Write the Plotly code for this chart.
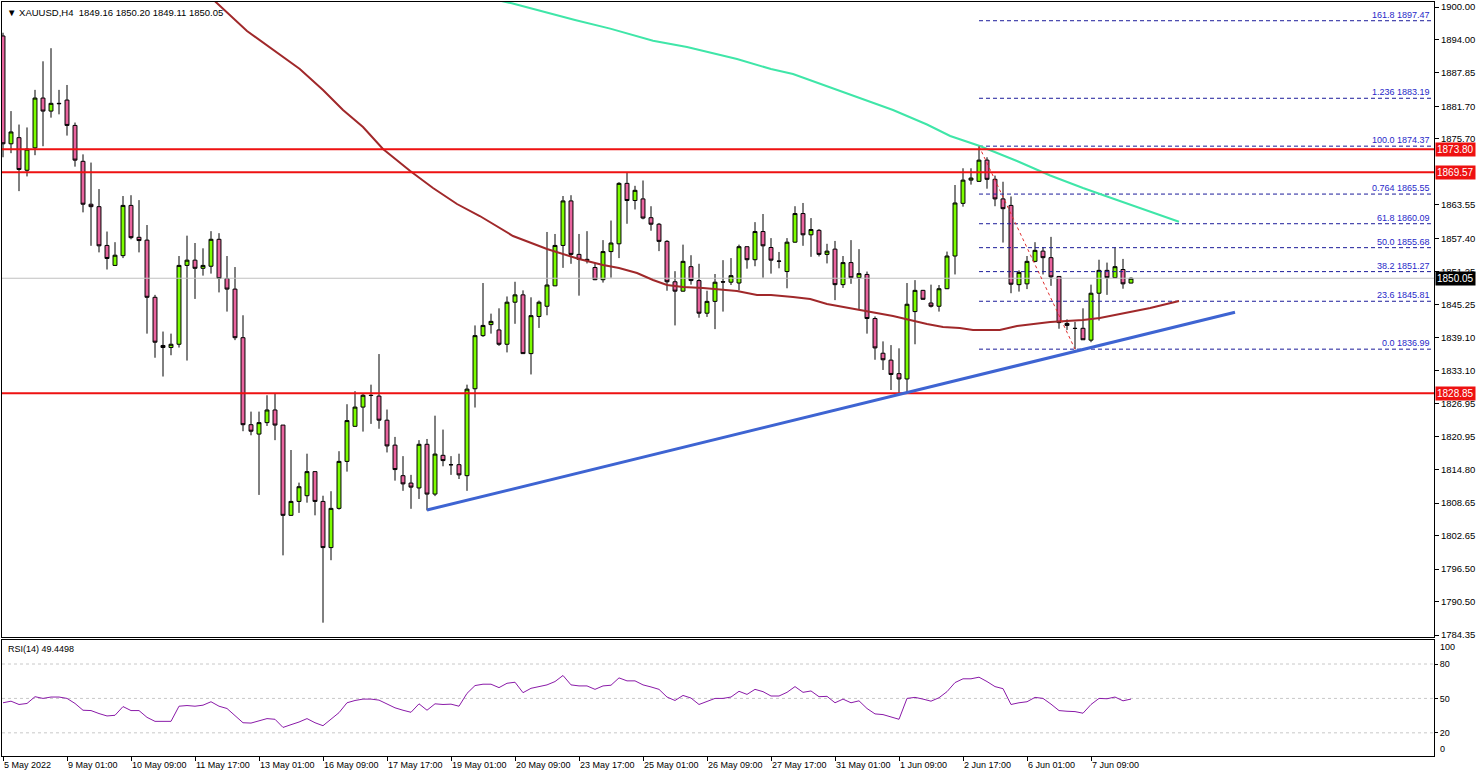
import plotly.graph_objects as go

# ---------------- data ----------------
bars = list(range(142))
opens = [1894.66, 1874.81, 1875.94, 1869.93, 1874.06, 1883.23, 1880.83, 1882.26, 1882.86, 1878.19,
         1871.58, 1863.68, 1863.23, 1856.09, 1852.41, 1854.21, 1863.46, 1857.59, 1857.07, 1846.54,
         1837.67, 1837.29, 1837.89, 1852.41, 1853.38, 1851.88, 1852.26, 1857.22, 1850.00, 1848.05,
         1839.10, 1823.08, 1821.35, 1823.46, 1825.79, 1823.01, 1806.39, 1808.95, 1810.00, 1814.44,
         1808.95, 1800.45, 1807.67, 1816.32, 1822.78, 1826.32, 1828.50, 1828.35, 1823.91, 1819.32,
         1813.69, 1812.33, 1811.43, 1819.47, 1810.30, 1817.44, 1815.72, 1815.72, 1813.69, 1829.70,
         1839.48, 1841.51, 1840.53, 1837.89, 1845.64, 1846.99, 1836.17, 1843.01, 1844.89, 1848.65,
         1856.09, 1864.29, 1854.44, 1853.53, 1852.03, 1849.78, 1854.96, 1856.39, 1867.52, 1864.36,
         1864.66, 1861.20, 1860.00, 1856.84, 1849.40, 1847.67, 1852.18, 1849.62, 1843.61, 1845.79,
         1849.40, 1849.32, 1849.17, 1855.86, 1853.46, 1858.65, 1855.71, 1853.16, 1851.28, 1856.69,
         1861.96, 1858.05, 1858.87, 1854.44, 1855.41, 1848.87, 1852.93, 1850.15, 1850.75, 1842.63,
         1836.24, 1834.97, 1832.48, 1831.50, 1843.91, 1847.82, 1845.49, 1844.89, 1848.12, 1854.14,
         1863.84, 1868.12, 1867.89, 1871.80, 1868.27, 1864.66, 1863.46, 1848.87, 1849.02, 1853.16,
         1855.04, 1853.84, 1850.38, 1841.73, 1840.83, 1840.83, 1838.65, 1847.29, 1851.50, 1850.15,
         1851.66, 1849.16]
highs = [1895.26, 1880.83, 1878.35, 1877.82, 1884.74, 1890.00, 1892.41, 1884.74, 1885.64, 1878.72,
         1872.86, 1871.35, 1866.47, 1858.65, 1856.69, 1865.19, 1865.34, 1864.44, 1859.85, 1846.99,
         1840.23, 1839.85, 1854.14, 1857.89, 1856.54, 1855.56, 1858.72, 1858.35, 1854.14, 1852.11,
         1843.23, 1825.49, 1825.49, 1828.50, 1828.87, 1823.01, 1818.42, 1812.41, 1817.74, 1814.44,
         1810.00, 1810.83, 1818.20, 1826.85, 1829.25, 1828.87, 1830.45, 1836.09, 1825.87, 1820.83,
         1817.29, 1813.84, 1820.23, 1820.45, 1824.74, 1822.18, 1817.29, 1817.74, 1830.45, 1841.36,
         1849.17, 1843.53, 1844.51, 1846.69, 1849.40, 1847.82, 1846.54, 1845.94, 1858.57, 1858.20,
         1865.19, 1865.34, 1858.20, 1858.72, 1852.93, 1857.07, 1860.68, 1867.74, 1869.47, 1867.07,
         1868.05, 1863.31, 1860.23, 1857.07, 1851.35, 1856.24, 1854.29, 1852.71, 1847.75, 1850.83,
         1853.38, 1853.76, 1856.24, 1855.86, 1860.38, 1861.88, 1857.44, 1854.89, 1857.44, 1863.31,
         1863.91, 1861.13, 1859.10, 1856.39, 1856.92, 1854.14, 1857.07, 1855.41, 1851.28, 1843.01,
         1838.42, 1837.74, 1837.14, 1849.17, 1849.70, 1847.90, 1848.87, 1848.80, 1854.96, 1867.22,
         1870.30, 1870.30, 1874.37, 1872.33, 1868.95, 1867.82, 1865.11, 1851.50, 1854.14, 1856.69,
         1855.79, 1857.67, 1850.38, 1842.48, 1842.03, 1844.51, 1848.87, 1853.46, 1852.93, 1855.71,
         1853.61, 1850.20]
lows = [1872.33, 1873.08, 1866.09, 1868.80, 1872.71, 1874.36, 1879.62, 1880.23, 1876.32, 1870.60,
        1862.18, 1856.02, 1854.81, 1851.66, 1852.30, 1853.76, 1857.22, 1854.81, 1839.85, 1835.41,
        1831.95, 1835.87, 1837.29, 1834.89, 1846.24, 1850.53, 1850.90, 1847.44, 1843.91, 1838.65,
        1821.88, 1821.13, 1810.15, 1822.85, 1820.23, 1799.02, 1806.30, 1806.84, 1808.72, 1806.39,
        1786.62, 1798.12, 1807.44, 1814.44, 1822.70, 1821.81, 1823.23, 1822.33, 1817.97, 1812.78,
        1810.90, 1807.59, 1809.40, 1807.29, 1809.93, 1815.42, 1813.84, 1813.08, 1810.90, 1826.24,
        1839.25, 1839.85, 1837.59, 1836.39, 1841.66, 1836.10, 1832.33, 1840.90, 1843.23, 1848.60,
        1851.96, 1852.71, 1846.84, 1852.78, 1849.70, 1849.25, 1850.15, 1853.76, 1860.08, 1862.71,
        1860.90, 1858.80, 1855.04, 1847.75, 1841.36, 1847.60, 1848.87, 1842.78, 1842.93, 1840.68,
        1843.91, 1848.80, 1847.82, 1851.81, 1852.26, 1850.15, 1850.90, 1851.88, 1848.20, 1856.60,
        1856.02, 1853.99, 1854.06, 1852.78, 1846.02, 1848.27, 1849.02, 1844.36, 1839.85, 1835.04,
        1833.16, 1829.47, 1828.95, 1828.95, 1837.89, 1846.10, 1844.66, 1843.91, 1848.05, 1850.75,
        1863.23, 1867.29, 1867.80, 1866.54, 1863.31, 1856.62, 1847.29, 1847.59, 1848.05, 1853.01,
        1850.75, 1848.65, 1840.75, 1840.53, 1836.99, 1838.70, 1838.27, 1842.26, 1846.99, 1850.10,
        1848.12, 1849.11]
closes = [1874.81, 1876.99, 1870.08, 1873.83, 1883.23, 1880.83, 1882.26, 1882.20, 1878.19, 1871.80,
          1863.68, 1863.23, 1856.02, 1853.69, 1854.29, 1863.46, 1857.52, 1856.99, 1846.54, 1838.27,
          1837.29, 1837.89, 1852.41, 1853.38, 1851.88, 1852.41, 1857.22, 1850.00, 1848.05, 1839.10,
          1823.08, 1821.88, 1823.46, 1825.79, 1823.01, 1806.39, 1808.95, 1811.66, 1814.44, 1808.95,
          1800.45, 1807.67, 1816.32, 1823.84, 1826.32, 1828.50, 1828.45, 1823.91, 1819.17, 1814.82,
          1812.18, 1811.58, 1819.47, 1810.30, 1817.67, 1816.47, 1815.70, 1813.84, 1829.63, 1839.48,
          1841.36, 1842.11, 1837.89, 1845.64, 1846.99, 1836.17, 1843.16, 1845.64, 1848.80, 1856.09,
          1864.29, 1854.44, 1853.53, 1853.31, 1849.78, 1854.96, 1856.54, 1867.52, 1864.36, 1866.24,
          1861.13, 1860.00, 1856.84, 1849.40, 1847.67, 1853.16, 1849.62, 1843.61, 1845.79, 1849.32,
          1849.35, 1850.53, 1855.86, 1853.46, 1858.65, 1856.02, 1853.38, 1853.20, 1856.69, 1861.96,
          1858.05, 1859.02, 1854.44, 1855.04, 1848.87, 1852.93, 1850.15, 1850.90, 1842.63, 1837.22,
          1835.04, 1832.33, 1831.50, 1845.26, 1847.82, 1846.17, 1844.89, 1848.12, 1854.14, 1863.91,
          1868.12, 1868.50, 1871.80, 1868.27, 1864.66, 1862.86, 1848.95, 1851.13, 1853.16, 1855.19,
          1853.84, 1850.30, 1841.88, 1841.36, 1840.80, 1838.72, 1847.29, 1851.50, 1850.15, 1852.18,
          1849.02, 1850.05]

rsi_values = [46.2, 47.6, 44.7, 45.6, 51.5, 50.0, 51.2, 51.2, 50.0, 45.6,
              39.7, 39.4, 36.8, 34.7, 35.3, 42.9, 39.4, 39.4, 33.5, 30.0,
              30.0, 30.0, 43.2, 43.8, 43.2, 44.1, 47.1, 43.2, 41.2, 35.3,
              28.8, 28.5, 30.6, 32.4, 31.8, 24.7, 27.1, 29.4, 32.4, 28.8,
              26.2, 31.5, 37.6, 46.2, 48.2, 49.4, 49.4, 48.5, 45.3, 41.8,
              39.7, 37.9, 45.3, 39.7, 45.3, 44.7, 45.0, 43.2, 54.4, 61.2,
              62.4, 62.4, 59.4, 63.2, 64.1, 55.0, 58.8, 60.6, 61.8, 64.7,
              70.0, 61.8, 60.9, 60.9, 57.9, 60.9, 61.5, 67.9, 65.3, 65.3,
              61.8, 60.0, 57.9, 51.2, 48.2, 52.6, 50.3, 44.7, 47.6, 50.0,
              50.0, 51.2, 56.2, 53.5, 57.9, 55.9, 52.1, 52.1, 55.3, 60.3,
              55.3, 56.5, 51.5, 51.8, 46.2, 49.4, 46.2, 47.9, 41.2, 36.5,
              35.9, 34.1, 31.8, 50.0, 50.9, 49.4, 47.6, 50.6, 55.9, 63.8,
              67.1, 67.1, 68.5, 64.7, 60.3, 58.5, 44.7, 46.2, 47.1, 50.9,
              50.0, 45.0, 39.4, 38.8, 38.5, 37.1, 44.7, 50.0, 49.7, 51.2,
              47.9, 49.4498]

# moving averages (sampled along the drawn curves: bar position, price)
ma_slow_bar = [25, 26.75, 30.5, 37.1, 40, 42.5, 45, 47.5, 50.9, 53.75, 56.75, 59.6, 63.75, 68, 72,
               75, 77, 79.25, 81.25, 83, 85, 87.5, 91.75, 94.25, 96, 98.75, 100.9, 103, 105, 107.1,
               111.25, 115.5, 117.5, 119.6, 121.25, 124.6, 126.75, 130.9, 135, 137.1, 140.5, 143.4, 147]
ma_slow_val = [1903.1, 1900.74, 1895.58, 1888.58, 1884.71, 1881.03, 1877.90, 1873.85, 1869.80, 1866.67,
               1863.72, 1861.51, 1857.83, 1855.43, 1853.59, 1852.49, 1851.93, 1851.01, 1849.72, 1848.80,
               1848.43, 1848.25, 1847.70, 1846.96, 1846.96, 1846.59, 1846.22, 1845.30, 1844.75, 1844.20,
               1843.09, 1841.62, 1841.07, 1840.88, 1840.52, 1840.52, 1841.25, 1841.99, 1842.36, 1842.73,
               1843.65, 1844.57, 1845.86]
ma_fast_bar = [62, 63.6, 71.5, 75.9, 81.25, 85.5, 91.75, 96, 98.75, 103, 107.1, 111.25, 115.5,
               118.4, 122.1, 126.75, 130.9, 135, 139.25, 143.4, 147]
ma_fast_val = [1901.2, 1900.68, 1897.6, 1896.02, 1893.78, 1892.63, 1890.42, 1888.58, 1887.66, 1885.45,
               1883.24, 1881.03, 1878.36, 1876.24, 1874.40, 1871.64, 1868.97, 1866.67, 1864.46, 1862.25,
               1860.46]

trend_bar = [53, 154]
trend_val = [1807.37, 1843.78]

sr_levels = [1873.80, 1869.57, 1828.85]
last_price = 1850.05

fib_start_bar = 122
fib_names = ["161.8", "1.236", "100.0", "0.764", "61.8", "50.0", "38.2", "23.6", "0.0"]
fib_levels = [1897.47, 1883.19, 1874.37, 1865.55, 1860.09, 1855.68, 1851.27, 1845.81, 1836.99]
swing_bar = [122, 134]
swing_val = [1874.37, 1836.99]

# 1869.55 is hidden behind the 1869.57 price box in the reference, so it is not listed
price_ticks = [1900.00, 1894.00, 1887.85, 1881.70, 1875.70, 1863.55, 1857.40, 1851.25,
               1845.25, 1839.10, 1833.10, 1826.95, 1820.95, 1814.80, 1808.65, 1802.65, 1796.50,
               1790.50, 1784.35]
date_tick_bars = [0, 8, 16, 24, 32, 40, 48, 56, 64, 72, 80, 88, 96, 104, 112, 120, 128, 136]
date_labels = ["5 May 2022", "9 May 01:00", "10 May 09:00", "11 May 17:00", "13 May 01:00",
               "16 May 09:00", "17 May 17:00", "19 May 01:00", "20 May 09:00", "23 May 17:00",
               "25 May 01:00", "26 May 09:00", "27 May 17:00", "31 May 01:00", "1 Jun 09:00",
               "2 Jun 17:00", "6 Jun 01:00", "7 Jun 09:00"]
rsi_levels = [80, 50, 20]

# ---------------- figure ----------------
FONT = "Liberation Sans"
X_RANGE = [-0.125, 178.875]
fig = go.Figure()

# grey current-price line
fig.add_trace(go.Scatter(x=X_RANGE, y=[last_price, last_price], mode="lines",
                         line=dict(color="#C0C0C0", width=1), xaxis="x", yaxis="y", hoverinfo="skip"))

# fib levels
for lvl in fib_levels:
    fig.add_trace(go.Scatter(x=[fib_start_bar, X_RANGE[1]], y=[lvl, lvl], mode="lines",
                             line=dict(color="#1C1C9A", width=1, dash="4px,3px"),
                             xaxis="x", yaxis="y", hoverinfo="skip"))

# candles
fig.add_trace(go.Candlestick(
    x=bars, open=opens, high=highs, low=lows, close=closes,
    increasing=dict(fillcolor="#7CFC00", line=dict(color="#000000", width=1)),
    decreasing=dict(fillcolor="#E8649E", line=dict(color="#000000", width=1)),
    whiskerwidth=0, xaxis="x", yaxis="y", hoverinfo="skip"))

# moving averages
fig.add_trace(go.Scatter(x=ma_slow_bar, y=ma_slow_val, mode="lines",
                         line=dict(color="#A0282A", width=2), xaxis="x", yaxis="y", hoverinfo="skip"))
fig.add_trace(go.Scatter(x=ma_fast_bar, y=ma_fast_val, mode="lines",
                         line=dict(color="#3FE6A8", width=2), xaxis="x", yaxis="y", hoverinfo="skip"))

# support / resistance lines
for lvl in sr_levels:
    fig.add_trace(go.Scatter(x=X_RANGE, y=[lvl, lvl], mode="lines",
                             line=dict(color="#EE1111", width=2), xaxis="x", yaxis="y", hoverinfo="skip"))

# trend line
fig.add_trace(go.Scatter(x=trend_bar, y=trend_val, mode="lines",
                         line=dict(color="#3E64D2", width=3), xaxis="x", yaxis="y", hoverinfo="skip"))

# fib swing (dotted)
fig.add_trace(go.Scatter(x=swing_bar, y=swing_val, mode="lines",
                         line=dict(color="#E03030", width=1, dash="dot"), xaxis="x", yaxis="y", hoverinfo="skip"))

# RSI levels
for lvl in rsi_levels:
    fig.add_trace(go.Scatter(x=X_RANGE, y=[lvl, lvl], mode="lines",
                             line=dict(color="#C8C8C8", width=1, dash="3px,3px"),
                             xaxis="x2", yaxis="y2", hoverinfo="skip"))
fig.add_trace(go.Scatter(x=bars, y=rsi_values, mode="lines",
                         line=dict(color="#8A1AA8", width=1), xaxis="x2", yaxis="y2", hoverinfo="skip"))

annotations = []
# fib labels
for name, lvl in zip(fib_names, fib_levels):
    annotations.append(dict(x=1, xref="paper", xanchor="right", xshift=-2, y=lvl, yref="y",
                            yanchor="bottom", yshift=-1, text=f"{name} {lvl:.2f}", showarrow=False,
                            font=dict(family=FONT, size=9, color="#2828C8")))
# price boxes
for lvl in sr_levels:
    annotations.append(dict(x=1, xref="paper", xanchor="left", xshift=1, y=lvl, yref="y",
                            text=f"{lvl:.2f}", showarrow=False, bgcolor="#EE1111", borderpad=1,
                            font=dict(family=FONT, size=10, color="#FFFFFF")))
annotations.append(dict(x=1, xref="paper", xanchor="left", xshift=1, y=last_price, yref="y",
                        text=f"{last_price:.2f}", showarrow=False, bgcolor="#000000", borderpad=1,
                        font=dict(family=FONT, size=10, color="#FFFFFF")))
# titles
annotations.append(dict(x=0, xref="paper", xanchor="left", xshift=3, y=1, yref="paper", yanchor="top",
                        yshift=-3, showarrow=False,
                        text=f"\u25BC XAUUSD,H4  {opens[-1]:.2f} {highs[-1]:.2f} {lows[-1]:.2f} {closes[-1]:.2f}",
                        font=dict(family=FONT, size=9.5, color="#000000")))
annotations.append(dict(x=0, xref="paper", xanchor="left", xshift=4, y=100.9, yref="y2", yanchor="top",
                        yshift=-2, showarrow=False, text=f"RSI(14) {rsi_values[-1]:.4f}",
                        font=dict(family=FONT, size=9, color="#000000")))
# RSI 100 / 0 labels
annotations.append(dict(x=1, xref="paper", xanchor="left", xshift=4, y=100.9, yref="y2", yanchor="top",
                        showarrow=False, text="100", font=dict(family=FONT, size=9, color="#000000")))
annotations.append(dict(x=1, xref="paper", xanchor="left", xshift=4, y=0, yref="y2", yanchor="bottom",
                        showarrow=False, text="0", font=dict(family=FONT, size=9, color="#000000")))

axis_common = dict(showgrid=False, zeroline=False, showline=True, linecolor="#000000", linewidth=1,
                   mirror=True)

fig.update_layout(
    width=1480, height=777,
    margin=dict(l=2, r=46, t=2, b=21),
    paper_bgcolor="#FFFFFF", plot_bgcolor="#FFFFFF",
    showlegend=False,
    font=dict(family=FONT, size=9, color="#000000"),
    xaxis=dict(range=X_RANGE, anchor="y", domain=[0, 1], showticklabels=False, ticks="",
               rangeslider=dict(visible=False), **axis_common),
    yaxis=dict(range=[1783.98, 1900.92], domain=[0.1578, 1], side="right", anchor="x",
               tickvals=price_ticks, ticktext=[f"{v:.2f}" for v in price_ticks],
               ticks="outside", ticklen=4, tickcolor="#000000",
               tickfont=dict(family=FONT, size=9.5, color="#000000"), **axis_common),
    xaxis2=dict(range=X_RANGE, anchor="y2", domain=[0, 1], matches="x",
                tickvals=date_tick_bars, ticktext=date_labels, ticks="outside", ticklen=4,
                tickcolor="#000000", ticklabelposition="outside right",
                tickfont=dict(family=FONT, size=9, color="#000000"), **axis_common),
    yaxis2=dict(range=[-0.2, 100.9], domain=[0, 0.1538], side="right", anchor="x2",
                tickvals=rsi_levels, ticktext=[str(v) for v in rsi_levels],
                ticks="outside", ticklen=3, tickcolor="#000000",
                tickfont=dict(family=FONT, size=9, color="#000000"), **axis_common),
    annotations=annotations,
)

fig.write_html("out.html", config={"displayModeBar": False},
               post_script="document.body.style.margin='0';document.body.style.padding='0';")
